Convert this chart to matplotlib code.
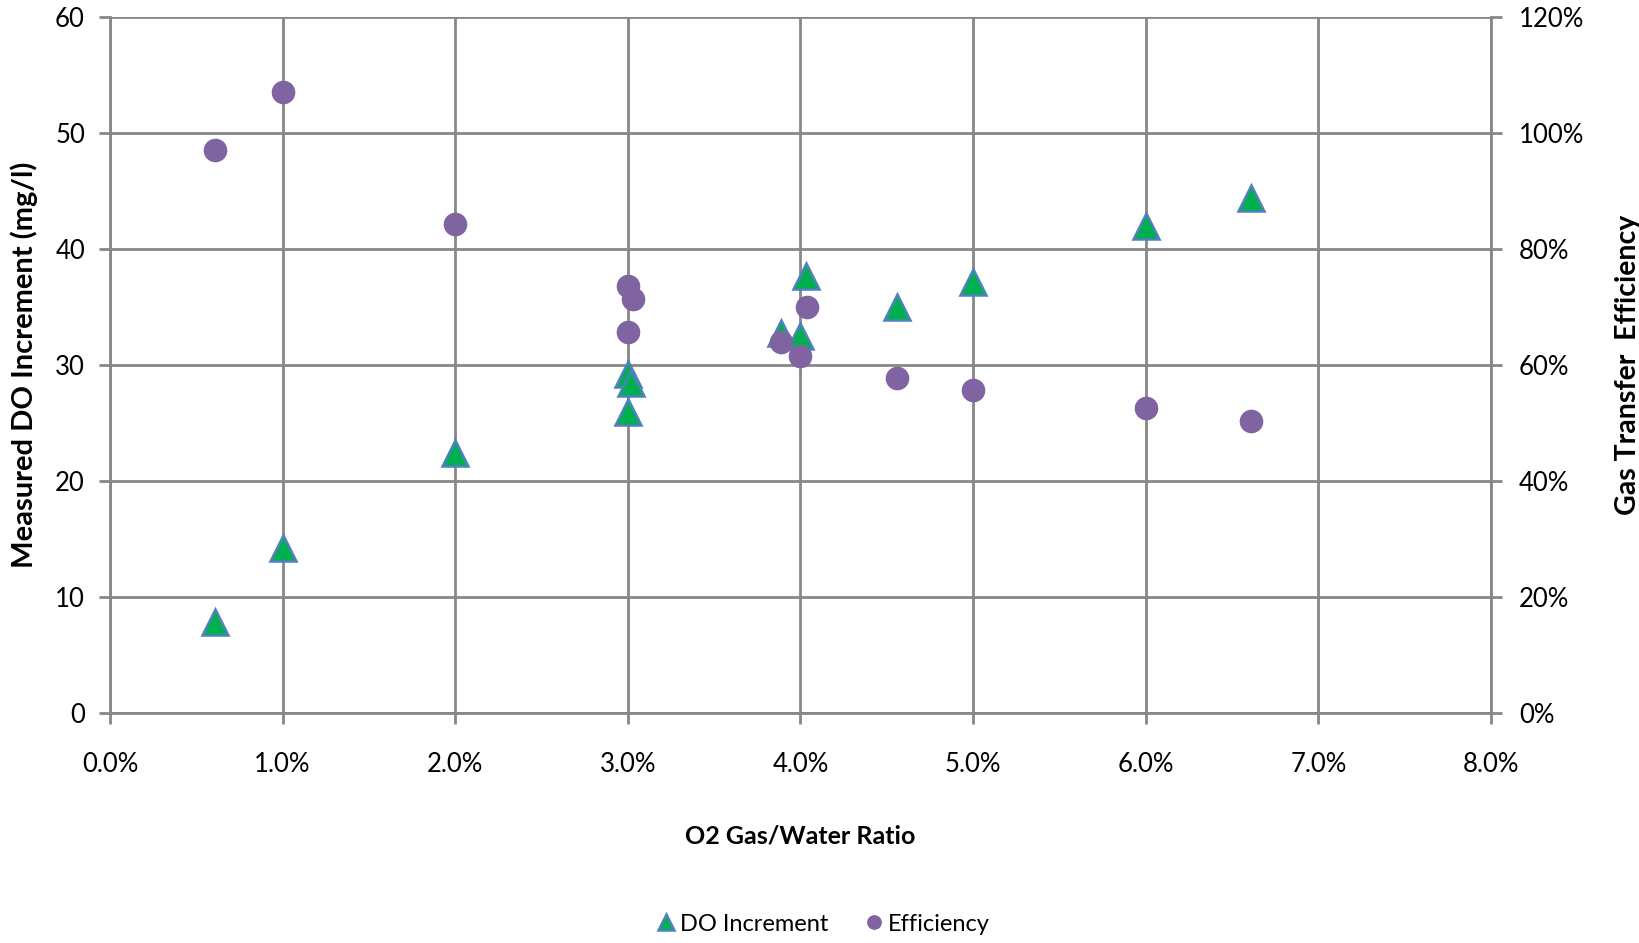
import matplotlib.pyplot as plt
from matplotlib.ticker import FuncFormatter, MultipleLocator

plt.rcParams['font.family'] = ['Lato', 'DejaVu Sans']

# O2 gas/water ratio (%)
ratio_do = [0.61, 1.0, 2.0, 3.0, 3.02, 3.0, 3.89, 4.0, 4.03, 4.56, 5.0, 6.0, 6.61]
do_incr = [7.8, 14.2, 22.4, 29.2, 28.5, 26.0, 32.8, 32.5, 37.7, 35.0, 37.2, 42.0, 44.4]

ratio_eff = [0.61, 1.0, 2.0, 3.0, 3.03, 3.0, 3.89, 4.0, 4.04, 4.56, 5.0, 6.0, 6.61]
efficiency = [97.2, 107.2, 84.4, 73.7, 71.5, 65.7, 64.0, 61.5, 70.0, 57.8, 55.7, 52.6, 50.3]

grey = '#878787'

fig = plt.figure(figsize=(16.39, 9.43), dpi=100)
ax = fig.add_axes([0.0671, 0.244, 0.8426, 0.7375])
ax2 = ax.twinx()

ax.set_xlim(0, 8)
ax.set_ylim(0, 60)
ax2.set_ylim(0, 120)

ax.xaxis.set_major_locator(MultipleLocator(1))
ax.yaxis.set_major_locator(MultipleLocator(10))
ax2.yaxis.set_major_locator(MultipleLocator(20))
ax.xaxis.set_major_formatter(FuncFormatter(lambda v, p: '%.1f%%' % v))
ax2.yaxis.set_major_formatter(FuncFormatter(lambda v, p: '%d%%' % v))

ax.grid(True, color=grey, linewidth=2)
ax.set_axisbelow(True)
for a in (ax, ax2):
    for s in a.spines.values():
        s.set_visible(False)
ax.spines['left'].set_visible(True)
ax.spines['bottom'].set_visible(True)
ax2.spines['right'].set_visible(True)
for s in (ax.spines['left'], ax.spines['bottom'], ax2.spines['right']):
    s.set_color(grey)
    s.set_linewidth(2)

ax.tick_params(axis='both', colors=grey, width=2, length=8, labelsize=18.5, labelcolor='black')
ax.tick_params(axis='x', pad=20)
ax.tick_params(axis='y', pad=10)
ax2.tick_params(axis='y', colors=grey, width=2, length=8, labelsize=18.5, labelcolor='black', pad=12)

l1, = ax.plot(ratio_do, do_incr, linestyle='none', marker='^', markersize=19,
              markerfacecolor='#00B050', markeredgecolor='#4F81BD', markeredgewidth=1.8,
              label='DO Increment', zorder=3)
l2, = ax2.plot(ratio_eff, efficiency, linestyle='none', marker='o', markersize=16,
               markerfacecolor='#8064A2', markeredgecolor='#8064A2', label='Efficiency', zorder=3)

ax.set_ylabel('Measured DO Increment (mg/l)', fontsize=21, fontweight='bold', labelpad=12)
ax2.set_ylabel('Gas Transfer  Efficiency', fontsize=20.5, fontweight='bold', labelpad=22)
ax.set_xlabel('O2 Gas/Water Ratio', fontsize=18, fontweight='bold', labelpad=34)

fig.legend(handles=[l1, l2], loc='center', bbox_to_anchor=(0.503, 0.02), ncol=2,
           frameon=False, fontsize=17, markerscale=0.6, handlelength=0.6,
           handletextpad=0.3, columnspacing=1.6)

fig.savefig('out.png', dpi=100)
